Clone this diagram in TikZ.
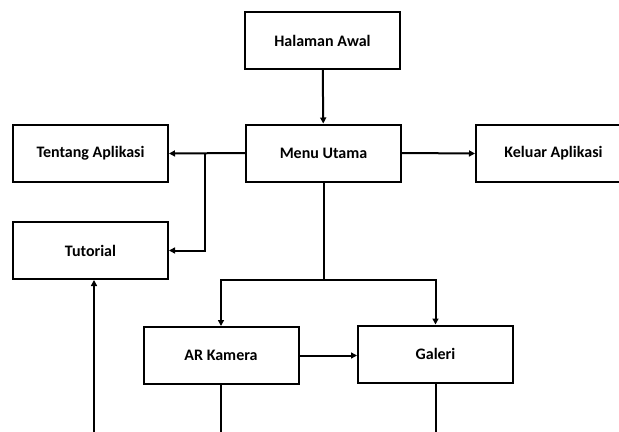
\documentclass[tikz,border=0pt]{standalone}
\usepackage{fontspec}
\setmainfont{Carlito}
\usetikzlibrary{arrows.meta}

\tikzset{every picture/.style={line width=0.75pt}}
\tikzset{kotak/.style={draw, line width=1.5pt, minimum width=116.25pt, minimum height=42.75pt, inner sep=0pt, font=\bfseries\fontsize{12}{14}\selectfont},
  garis/.style={line width=1.5pt},
  panah/.style={line width=1.5pt, -{Triangle[length=4.5pt,width=4.5pt]}}}

\begin{document}
\begin{tikzpicture}[x=0.75pt,y=0.75pt,yscale=-1,xscale=1]
%set diagram left start at 0, and has height of 432
\clip (0,0) rectangle (619,432);

% Text Node
\draw (322.5,40.5) node [kotak] (awal) {Halaman Awal};
% Text Node
\draw (323.5,153) node [kotak] (menu) {Menu Utama};
% Text Node
\draw (90.5,153.5) node [kotak] (tentang) {Tentang Aplikasi};
% Text Node
\draw (553.5,153.5) node [kotak] (keluar) {Keluar Aplikasi};
% Text Node
\draw (90.5,250.5) node [kotak] (tutorial) {Tutorial};
% Text Node
\draw (221,355.5) node [kotak] (kamera) {AR Kamera};
% Text Node
\draw (435.5,354) node [kotak] (galeri) {Galeri};

% Coordinates
\coordinate (cabang) at (205,153);
\coordinate (pisah) at (323.5,280);
\coordinate (bawah) at (94,440);

%Straight Lines
\draw [panah] (awal) -- (menu) ;
%Straight Lines
\draw [panah] (menu.west) -- (tentang.east) ;
%Straight Lines
\draw [panah] (cabang) |- (tutorial.east) ;
%Straight Lines
\draw [panah] (menu.east) -- (keluar.west) ;
%Straight Lines
\draw [garis] (menu.south) -- (pisah) ;
%Straight Lines
\draw [panah] (pisah) -| (kamera.north) ;
%Straight Lines
\draw [panah] (pisah) -| (galeri.north) ;
%Straight Lines
\draw [panah] (kamera.east) -- (kamera.east -| galeri.west) ;
%Straight Lines
\draw [garis] (kamera.south) -- (kamera.south |- bawah) ;
%Straight Lines
\draw [garis] (galeri.south) -- (galeri.south |- bawah) ;
%Straight Lines
\draw [panah] (bawah) -- (bawah |- tutorial.south) ;

\end{tikzpicture}
\end{document}
